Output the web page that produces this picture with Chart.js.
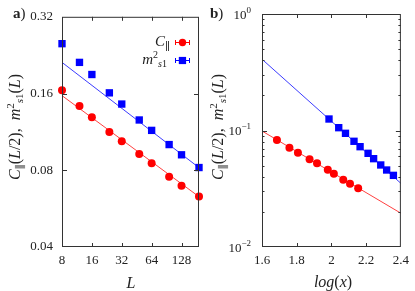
<!DOCTYPE html>
<html>
<head>
<meta charset="utf-8">
<script src="https://cdn.jsdelivr.net/npm/chart.js@4/dist/chart.umd.min.js"></script>
<style>
  html, body { margin: 0; padding: 0; background: #fff; }
  #wrap { position: relative; width: 415px; height: 291px; }
  .box { position: absolute; top: 0; height: 291px; }
</style>
</head>
<body>
<div id="wrap">
  <div class="box" style="left:0;width:207px"><canvas id="chartA"></canvas></div>
  <div class="box" style="left:207px;width:208px"><canvas id="chartB"></canvas></div>
</div>
<script>
// ---- panel a) data (log-log, vs L) ----
const sizesL = [8, 12, 16, 24, 32, 48, 64, 96, 128, 192];
const corrA = [0.165, 0.143, 0.129, 0.113, 0.104, 0.0926, 0.0852, 0.0754, 0.0696, 0.0631];
const magA = [0.251, 0.212, 0.190, 0.161, 0.1455, 0.126, 0.1147, 0.1009, 0.092, 0.082];
// fitted power laws, end points
const fitLx = [8, 192];
const fitCorrA = [0.157, 0.063];
const fitMagA = [0.212, 0.0819];
const ticksLx = [8, 16, 32, 64, 128];
const ticksAy = [0.04, 0.08, 0.16, 0.32];
const ticksAyLabels = ['0.04', '0.08', '0.16', '0.32'];

// ---- panel b) data (vs log(x)) ----
const logxCorr = [1.686, 1.758, 1.807, 1.874, 1.917, 1.979, 2.014, 2.068, 2.107, 2.154];
const corrB = [0.0829, 0.0712, 0.0645, 0.0566, 0.0523, 0.0461, 0.0426, 0.0378, 0.0349, 0.0319];
const logxMag = [1.986, 2.042, 2.081, 2.130, 2.165, 2.211, 2.243, 2.284, 2.318, 2.357];
const magB = [0.1255, 0.1057, 0.0946, 0.0808, 0.0726, 0.0637, 0.0573, 0.0506, 0.0458, 0.0412];
const fitBx = [1.6, 2.4];
const fitCorrB = [0.099, 0.0195];
const fitMagB = [0.409, 0.0352];
const ticksBx = [1.6, 1.8, 2.0, 2.2, 2.4];
const ticksBxLabels = ['1.6', '1.8', '2', '2.2', '2.4'];
const ticksBy = [0.01, 0.1, 1];
const ticksByExp = ['\u22122', '\u22121', '0'];

const RED = '#ff0000', BLUE = '#0000ff';
const INK = '#222';
const SERIF = '"Liberation Serif", "DejaVu Serif", serif';

function pts(xs, ys) {
  return xs.map((x, i) => ({x: x, y: ys[i]}));
}

// draw a list of [text, font, dy] pieces; align 'left', 'center' or 'right'
function rich(ctx, segs, x, y, align) {
  let total = 0;
  segs.forEach(s => { ctx.font = s[1]; total += ctx.measureText(s[0]).width; });
  let cx = x;
  if (align === 'right') cx = x - total;
  else if (align === 'center') cx = x - total / 2;
  ctx.textAlign = 'left';
  ctx.textBaseline = 'alphabetic';
  segs.forEach(s => {
    ctx.font = s[1];
    ctx.fillText(s[0], cx, y + (s[2] || 0));
    cx += ctx.measureText(s[0]).width;
  });
}

const it16 = 'italic 16px ' + SERIF, rm16 = '16px ' + SERIF;
const it11 = 'italic 11px ' + SERIF, rm11 = '11px ' + SERIF;
const yTitleSegs = [
  ['C', it16], ['\u2225', rm11, 4], ['(', rm16], ['L', it16], ['/2),  ', rm16],
  ['m', it16], ['2', rm11, -6], ['s', it11, 3], ['1', rm11, 3], ['(', rm16], ['L', it16], [')', rm16]
];

// frame + inward ticks, mirrored on all sides
function frameAndTicks(chart, xt, yt, yMinor) {
  const ctx = chart.ctx, a = chart.chartArea;
  const sx = chart.scales.x, sy = chart.scales.y;
  ctx.save();
  ctx.strokeStyle = '#333';
  ctx.lineWidth = 1;
  ctx.strokeRect(a.left + 0.5, a.top + 0.5, a.right - a.left - 1, a.bottom - a.top - 1);
  ctx.beginPath();
  xt.forEach(v => {
    const px = Math.round(sx.getPixelForValue(v)) + 0.5;
    ctx.moveTo(px, a.bottom); ctx.lineTo(px, a.bottom - 4);
    ctx.moveTo(px, a.top); ctx.lineTo(px, a.top + 4);
  });
  yt.forEach(v => {
    const py = Math.round(sy.getPixelForValue(v)) + 0.5;
    ctx.moveTo(a.left, py); ctx.lineTo(a.left + 5, py);
    ctx.moveTo(a.right, py); ctx.lineTo(a.right - 5, py);
  });
  (yMinor || []).forEach(v => {
    const py = Math.round(sy.getPixelForValue(v)) + 0.5;
    ctx.moveTo(a.left, py); ctx.lineTo(a.left + 2.5, py);
    ctx.moveTo(a.right, py); ctx.lineTo(a.right - 2.5, py);
  });
  ctx.stroke();
  ctx.restore();
}

const decoA = {
  id: 'decoA',
  afterDraw(chart) {
    const ctx = chart.ctx;
    frameAndTicks(chart, ticksLx.slice(1), [0.08, 0.16]);
    ctx.save();
    ctx.fillStyle = INK;
    // panel letter
    rich(ctx, [['a', 'bold 15px ' + SERIF], [')', '15px ' + SERIF]], 13, 18, 'left');
    // axis titles
    rich(ctx, [['L', it16]], 131, 288, 'center');
    ctx.translate(20, 127);
    ctx.rotate(-Math.PI / 2);
    rich(ctx, yTitleSegs, 0, 0, 'center');
    ctx.restore();

    // legend, text right aligned before an error-bar symbol
    ctx.save();
    ctx.fillStyle = INK;
    rich(ctx, [['C', 'italic 15px ' + SERIF], ['\u2225', rm11, 4]], 170, 46, 'right');
    rich(ctx, [['m', 'italic 15px ' + SERIF], ['2', '10px ' + SERIF, -6], ['s', 'italic 10px ' + SERIF, 3], ['1', '10px ' + SERIF, 3]], 167, 64, 'right');
    [[42, RED, 'circle'], [60, BLUE, 'rect']].forEach(r => {
      const y = r[0] + 0.5;
      ctx.strokeStyle = r[1];
      ctx.fillStyle = r[1];
      ctx.lineWidth = 1;
      ctx.beginPath();
      ctx.moveTo(175, y); ctx.lineTo(190, y);
      ctx.moveTo(175.5, y - 2.5); ctx.lineTo(175.5, y + 2.5);
      ctx.moveTo(189.5, y - 2.5); ctx.lineTo(189.5, y + 2.5);
      ctx.stroke();
      ctx.beginPath();
      if (r[2] === 'circle') ctx.arc(182.5, y, 3.7, 0, Math.PI * 2);
      else ctx.rect(178.8, y - 3.6, 7.3, 7.2);
      ctx.fill();
    });
    ctx.restore();
  }
};

const decoB = {
  id: 'decoB',
  afterDraw(chart) {
    const ctx = chart.ctx, sy = chart.scales.y;
    const minor = [];
    [0.01, 0.1].forEach(d => { for (let k = 2; k <= 9; k++) minor.push(d * k); });
    frameAndTicks(chart, [1.8, 2.0, 2.2], [0.1], minor);
    ctx.save();
    ctx.fillStyle = INK;
    rich(ctx, [['b', 'bold 15px ' + SERIF], [')', '15px ' + SERIF]], 3, 18, 'left');
    // y tick labels with powers of ten
    ticksBy.forEach((v, i) => {
      const py = sy.getPixelForValue(v);
      rich(ctx, [['10', '13px ' + SERIF, 4.5], [ticksByExp[i], '9px ' + SERIF, -1.5]], 44, py, 'right');
    });
    rich(ctx, [['log', it16], ['(', rm16], ['x', it16], [')', rm16]], 126, 287, 'center');
    ctx.translate(16, 127);
    ctx.rotate(-Math.PI / 2);
    rich(ctx, yTitleSegs, 0, 0, 'center');
    ctx.restore();
  }
};

function pointSet(data, color, style, r) {
  return {
    data: data, showLine: false, pointStyle: style, pointRadius: r, pointHoverRadius: r,
    backgroundColor: color, borderColor: color, borderWidth: 0, clip: false, order: 0
  };
}
function fitSet(data, color) {
  return {
    data: data, showLine: true, pointRadius: 0, borderColor: color, borderWidth: 1,
    fill: false, order: 1
  };
}

Chart.defaults.font.family = SERIF;
Chart.defaults.color = INK;

new Chart(document.getElementById('chartA'), {
  type: 'scatter',
  data: {
    datasets: [
      pointSet(pts(sizesL, corrA), RED, 'circle', 4),
      pointSet(pts(sizesL, magA), BLUE, 'rect', 5.2),
      fitSet(pts(fitLx, fitCorrA), '#ff4040'),
      fitSet(pts(fitLx, fitMagA), '#3c3cff')
    ]
  },
  options: {
    responsive: true, maintainAspectRatio: false, animation: false,
    layout: {padding: {left: 0, right: 8, top: 14, bottom: 0}},
    plugins: {legend: {display: false}, tooltip: {enabled: false}},
    scales: {
      x: {
        type: 'logarithmic', min: 8, max: 192,
        grid: {display: false, drawTicks: false}, border: {display: false},
        afterBuildTicks: s => { s.ticks = ticksLx.map(v => ({value: v})); },
        afterFit: s => { s.height = 44; },
        ticks: {padding: 6, font: {size: 13}, color: INK, maxRotation: 0,
          callback: v => String(v)}
      },
      y: {
        type: 'logarithmic', min: 0.04, max: 0.32,
        grid: {display: false, drawTicks: false}, border: {display: false},
        afterBuildTicks: s => { s.ticks = ticksAy.map(v => ({value: v})); },
        afterFit: s => { s.width = 62; },
        ticks: {padding: 9, font: {size: 13}, color: INK,
          callback: v => ticksAyLabels[ticksAy.indexOf(v)]}
      }
    }
  },
  plugins: [decoA]
});

new Chart(document.getElementById('chartB'), {
  type: 'scatter',
  data: {
    datasets: [
      pointSet(pts(logxCorr, corrB), RED, 'circle', 4),
      pointSet(pts(logxMag, magB), BLUE, 'rect', 5.2),
      fitSet(pts(fitBx, fitCorrB), '#ff4040'),
      fitSet(pts(fitBx, fitMagB), '#3c3cff')
    ]
  },
  options: {
    responsive: true, maintainAspectRatio: false, animation: false,
    layout: {padding: {left: 0, right: 10, top: 14, bottom: 0}},
    plugins: {legend: {display: false}, tooltip: {enabled: false}},
    scales: {
      x: {
        type: 'linear', min: 1.6, max: 2.4,
        grid: {display: false, drawTicks: false}, border: {display: false},
        afterBuildTicks: s => { s.ticks = ticksBx.map(v => ({value: v})); },
        afterFit: s => { s.height = 44; },
        ticks: {padding: 6, font: {size: 13}, color: INK, maxRotation: 0,
          callback: (v, i) => ticksBxLabels[i]}
      },
      y: {
        type: 'logarithmic', min: 0.01, max: 1,
        grid: {display: false, drawTicks: false}, border: {display: false},
        afterBuildTicks: s => { s.ticks = ticksBy.map(v => ({value: v})); },
        afterFit: s => { s.width = 55; },
        ticks: {display: false}
      }
    }
  },
  plugins: [decoB]
});
</script>
</body>
</html>
